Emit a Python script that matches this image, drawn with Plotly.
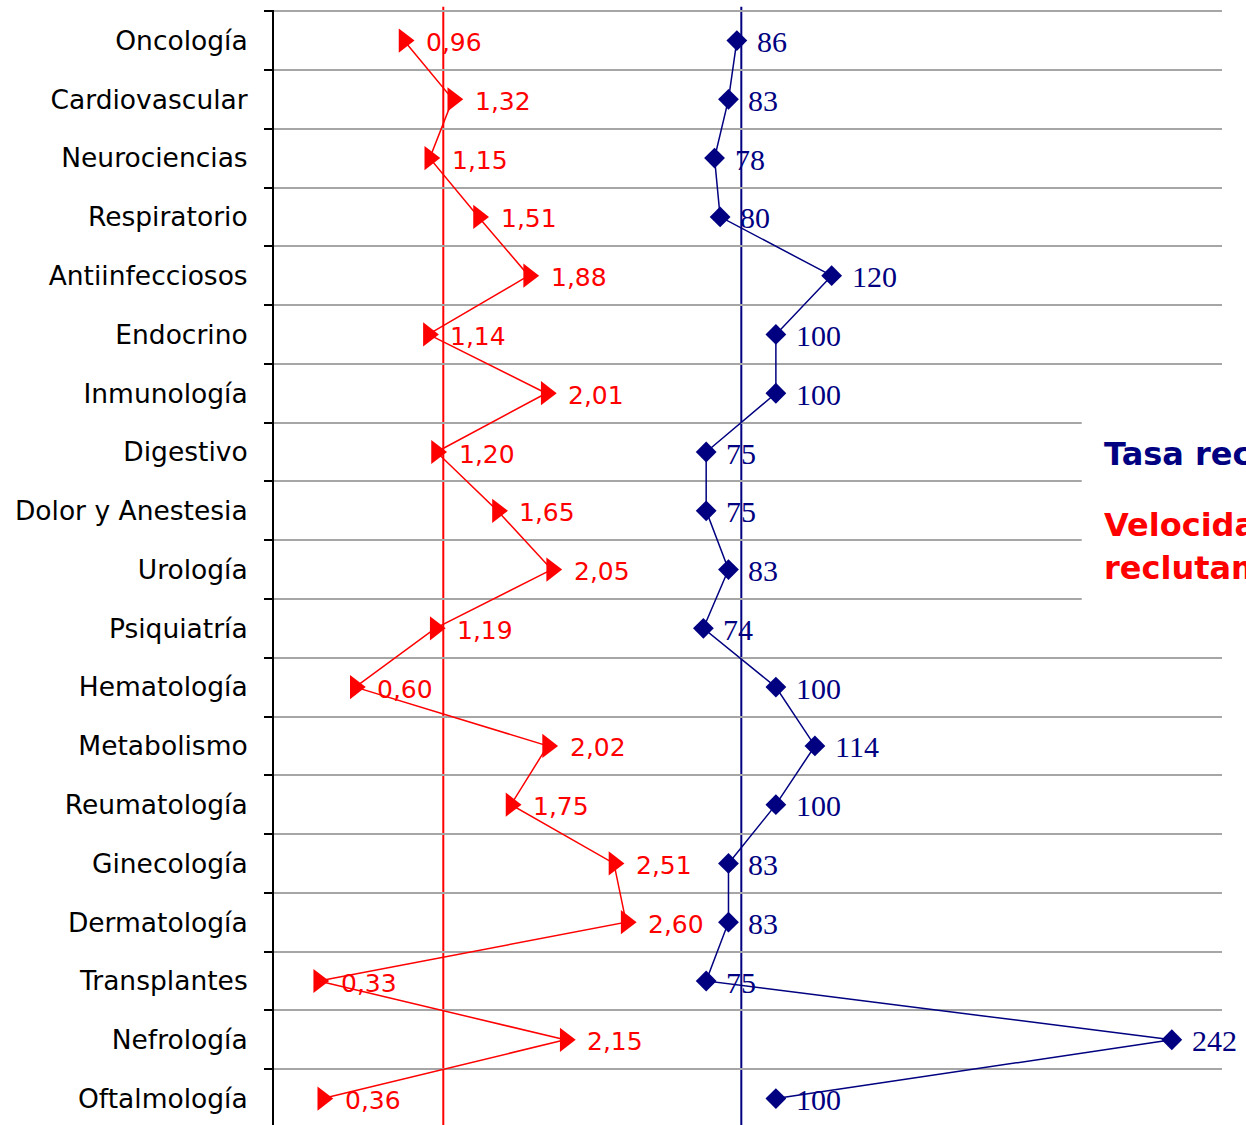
import plotly.graph_objects as go

# datos por área terapéutica (de arriba a abajo)
categorias = ["Oncología", "Cardiovascular", "Neurociencias", "Respiratorio",
              "Antiinfecciosos", "Endocrino", "Inmunología", "Digestivo",
              "Dolor y Anestesia", "Urología", "Psiquiatría", "Hematología",
              "Metabolismo", "Reumatología", "Ginecología", "Dermatología",
              "Transplantes", "Nefrología", "Oftalmología"]
velocidad = [0.96, 1.32, 1.15, 1.51, 1.88, 1.14, 2.01, 1.20, 1.65, 2.05,
             1.19, 0.60, 2.02, 1.75, 2.51, 2.60, 0.33, 2.15, 0.36]
tasa = [86, 83, 78, 80, 120, 100, 100, 75, 75, 83,
        74, 100, 114, 100, 83, 83, 75, 242, 100]
ref_velocidad = 1.25
ref_tasa = 87.6

ROJO = "#ff0000"
AZUL = "#000080"
FUENTE = "DejaVu Sans"

filas = list(range(len(categorias)))

fig = go.Figure()
fig.add_trace(go.Scatter(x=velocidad, y=filas, xaxis="x", yaxis="y",
                         mode="lines+markers",
                         line=dict(color=ROJO, width=1.5),
                         marker=dict(symbol="triangle-right", size=21, color=ROJO),
                         name="Velocidad de reclutamiento"))
fig.add_trace(go.Scatter(x=tasa, y=filas, xaxis="x2", yaxis="y",
                         mode="lines+markers",
                         line=dict(color=AZUL, width=1.5),
                         marker=dict(symbol="diamond", size=16, color=AZUL),
                         name="Tasa reclutamiento"))

anotaciones = []
for v, f in zip(velocidad, filas):
    anotaciones.append(dict(x=v, y=f, xref="x", yref="y", showarrow=False,
                            text=f"{v:.2f}".replace(".", ","), xanchor="left",
                            xshift=20, yshift=-2,
                            font=dict(family=FUENTE, size=25, color=ROJO)))
for v, f in zip(tasa, filas):
    anotaciones.append(dict(x=v, y=f, xref="x2", yref="y", showarrow=False,
                            text=str(v), xanchor="left", xshift=18, yshift=-1,
                            font=dict(family="Liberation Serif", size=30, color=AZUL)))

# leyenda (cortada por el borde derecho, como en el original)
anotaciones.append(dict(x=0.8735, y=7.03, xref="paper", yref="y", showarrow=False,
                        text="<b>Tasa reclutamiento</b>", xanchor="left",
                        font=dict(family=FUENTE, size=32, color=AZUL)))
anotaciones.append(dict(x=0.8735, y=8.25, xref="paper", yref="y", showarrow=False,
                        text="<b>Velocidad de</b>", xanchor="left",
                        font=dict(family=FUENTE, size=32, color=ROJO)))
anotaciones.append(dict(x=0.8735, y=8.98, xref="paper", yref="y", showarrow=False,
                        text="<b>reclutamiento</b>", xanchor="left",
                        font=dict(family=FUENTE, size=32, color=ROJO)))

formas = [
    dict(type="line", xref="x", yref="paper", x0=ref_velocidad, x1=ref_velocidad,
         y0=0, y1=1.003, line=dict(color=ROJO, width=2), layer="between"),
    dict(type="line", xref="x2", yref="paper", x0=ref_tasa, x1=ref_tasa,
         y0=0, y1=1.003, line=dict(color=AZUL, width=2), layer="between"),
    dict(type="rect", xref="paper", yref="y", x0=0.852, x1=1.1, y0=6.45, y1=9.55,
         fillcolor="white", line=dict(width=0), layer="above"),
]

fig.update_layout(
    width=1246, height=1125,
    margin=dict(l=274, r=24, t=10, b=0),
    plot_bgcolor="white", paper_bgcolor="white",
    showlegend=False,
    font=dict(family=FUENTE, color="black"),
    xaxis=dict(range=[0, 7], visible=False),
    xaxis2=dict(range=[-80, 260], overlaying="x", visible=False),
    yaxis=dict(range=[18.45, -0.52], tickvals=filas, ticktext=categorias,
               showgrid=False, zeroline=False, ticks="",
               showline=True, linecolor="black", linewidth=2,
               tickfont=dict(family=FUENTE, size=26.5, color="black"),
               ticklabelstandoff=19,
               minor=dict(tickvals=[f - 0.5 for f in filas + [len(filas)]],
                          showgrid=True, gridcolor="#a6a6a6", gridwidth=2,
                          ticks="outside", ticklen=8, tickcolor="black",
                          tickwidth=2)),
    annotations=anotaciones,
    shapes=formas,
)

fig.write_html("out.html", config={"displayModeBar": False},
               post_script="document.body.style.margin='0';")
